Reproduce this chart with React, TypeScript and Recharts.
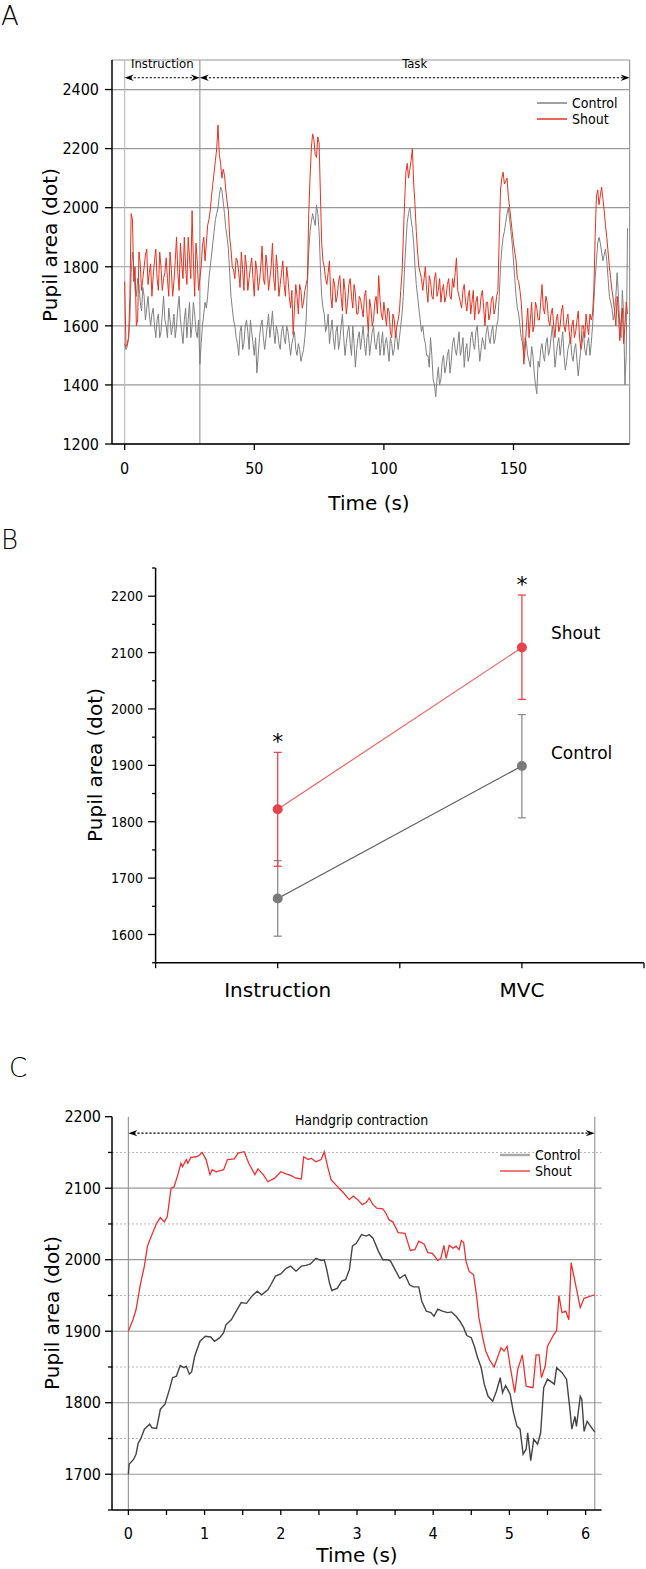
import { LineChart, Line, XAxis, YAxis, CartesianGrid, ReferenceLine, ErrorBar, LabelList } from 'recharts'

const NARROW = "'DejaVu Sans Condensed', 'DejaVu Sans', sans-serif"
const SANS = "'DejaVu Sans', sans-serif"
const RED = '#e5321f'
const GRAY = '#808080'
const AXIS = { stroke: '#000', strokeWidth: 1.5 }

// ---- Panel A: whole trial, samples on the full second (0..194 s)
const shoutA = [
    1750, 1540, 1700, 1960, 1800, 1620, 1810, 1760, 1840, 1740,
    1810, 1770, 1860, 1720, 1800, 1760, 1830, 1700, 1790, 1750,
    1900, 1720, 1810, 1900, 1740, 1830, 1990, 1700, 1820, 1760,
    1870, 1820, 1940, 1990, 2080, 2160, 2280, 2150, 2130, 2060,
    1990, 1860, 1790, 1830, 1780, 1850, 1720, 1800, 1760, 1830,
    1700, 1790, 1750, 1870, 1740, 1800, 1760, 1880, 1720, 1790,
    1740, 1820, 1700, 1760, 1660, 1570, 1740, 1640, 1720, 1680,
    1740, 1980, 2200, 2230, 2170, 2220, 1880, 1800, 1740, 1820,
    1660, 1740, 1700, 1770, 1650, 1720, 1680, 1760, 1660, 1710,
    1640, 1690, 1630, 1720, 1580, 1660, 1620, 1700, 1770, 1640,
    1680, 1600, 1650, 1560, 1620, 1600, 1650, 1780, 2020, 2150,
    2130, 2200, 2010, 1850, 1780, 1720, 1800, 1680, 1750, 1690,
    1780, 1720, 1680, 1740, 1700, 1760, 1690, 1730, 1830, 1700,
    1660, 1740, 1650, 1720, 1680, 1620, 1700, 1650, 1720, 1600,
    1680, 1640, 1700, 1660, 1720, 2060, 2120, 2090, 2040, 1960,
    1880, 1820, 1750, 1680, 1470, 1600, 1560, 1680, 1600, 1660,
    1620, 1740, 1640, 1680, 1600, 1660, 1560, 1640, 1600, 1670,
    1580, 1640, 1540, 1620, 1580, 1650, 1520, 1600, 1640, 1570,
    1620, 1720, 2040, 2010, 2070, 1990, 1900, 1800, 1720, 1650,
    1700, 1550, 1660, 1600, 1640,
]
// samples on the half second (0.5..193.5 s)
const shoutAHalf = [
    1530, 1560, 1980, 1750, 1600, 1850, 1720, 1800, 1860, 1780,
    1700, 1820, 1760, 1850, 1720, 1780, 1760, 1850, 1700, 1820,
    1780, 1880, 1760, 1800, 1900, 1760, 1820, 1880, 1720, 1800,
    1900, 1880, 1960, 2040, 2120, 2200, 2180, 2100, 2110, 2020,
    1900, 1800, 1760, 1820, 1730, 1790, 1840, 1720, 1800, 1760,
    1820, 1720, 1800, 1760, 1840, 1720, 1800, 1760, 1840, 1700,
    1780, 1740, 1800, 1700, 1720, 1660, 1700, 1740, 1660, 1720,
    1760, 2100, 2250, 2180, 2240, 2050, 1820, 1760, 1780, 1700,
    1760, 1680, 1750, 1700, 1760, 1640, 1740, 1700, 1740, 1640,
    1700, 1660, 1700, 1640, 1690, 1600, 1680, 1640, 1690, 1620,
    1640, 1660, 1580, 1640, 1560, 1620, 1720, 1900, 2120, 2100,
    2160, 2080, 1920, 1800, 1760, 1760, 1720, 1770, 1700, 1760,
    1700, 1760, 1720, 1680, 1740, 1700, 1760, 1780, 1720, 1680,
    1720, 1680, 1700, 1640, 1720, 1680, 1640, 1700, 1660, 1680,
    1620, 1690, 1640, 1700, 1900, 2100, 2080, 2100, 2000, 1920,
    1850, 1760, 1720, 1600, 1520, 1660, 1620, 1580, 1680, 1620,
    1680, 1660, 1700, 1620, 1640, 1600, 1620, 1580, 1650, 1600,
    1620, 1580, 1600, 1560, 1620, 1560, 1600, 1560, 1600, 1640,
    1640, 1900, 2060, 2040, 2030, 1940, 1850, 1760, 1690, 1600,
    1640, 1620, 1540, 1680,
]
const controlA = [
    1540, 1530, 1620, 1850, 1720, 1760, 1680, 1730, 1620, 1700,
    1600, 1660, 1560, 1640, 1580, 1700, 1600, 1660, 1570, 1640,
    1600, 1700, 1580, 1620, 1560, 1680, 1600, 1640, 1560, 1470,
    1600, 1680, 1700, 1800, 1880, 1960, 2000, 2070, 2020, 1930,
    1860, 1700, 1620, 1560, 1500, 1600, 1540, 1620, 1520, 1580,
    1500, 1440, 1560, 1620, 1520, 1600, 1560, 1650, 1540, 1580,
    1520, 1600, 1540, 1580, 1500, 1560, 1520, 1540, 1480, 1520,
    1620, 1850, 1950, 1960, 2010, 1920, 1700, 1640, 1600, 1540,
    1620, 1520, 1600, 1550, 1640, 1500, 1580, 1540, 1600, 1460,
    1560, 1520, 1600, 1500, 1580, 1540, 1600, 1520, 1580, 1540,
    1500, 1560, 1480, 1540, 1520, 1560, 1560, 1640, 1800, 1950,
    2000, 1930, 1800, 1700, 1620, 1600, 1540, 1500, 1560, 1420,
    1360, 1460, 1420, 1500, 1460, 1520, 1480, 1560, 1500, 1580,
    1520, 1460, 1540, 1500, 1580, 1520, 1600, 1480, 1560, 1520,
    1600, 1540, 1600, 1560, 1620, 1800, 1900, 1950, 2000, 1920,
    1820, 1700, 1640, 1560, 1500, 1540, 1480, 1530, 1440, 1370,
    1460, 1540, 1480, 1560, 1520, 1600, 1460, 1540, 1500, 1580,
    1450, 1520, 1560, 1480, 1540, 1430, 1520, 1580, 1500, 1560,
    1540, 1680, 1820, 1900, 1850, 1840, 1820, 1700, 1660, 1640,
    1780, 1600, 1720, 1400, 1930,
]
const controlAHalf = [
    1520, 1560, 1780, 1800, 1700, 1740, 1650, 1700, 1660, 1640,
    1640, 1600, 1620, 1560, 1640, 1620, 1560, 1620, 1600, 1560,
    1660, 1620, 1540, 1660, 1620, 1560, 1680, 1580, 1620, 1540,
    1640, 1660, 1760, 1840, 1920, 1980, 2040, 2060, 1980, 1900,
    1780, 1660, 1600, 1540, 1580, 1520, 1600, 1580, 1620, 1540,
    1560, 1500, 1600, 1560, 1560, 1640, 1600, 1580, 1600, 1540,
    1580, 1560, 1600, 1540, 1540, 1580, 1500, 1520, 1500, 1560,
    1740, 1920, 1980, 1940, 1980, 1800, 1660, 1580, 1640, 1580,
    1560, 1580, 1520, 1600, 1560, 1540, 1600, 1500, 1540, 1520,
    1580, 1560, 1540, 1560, 1500, 1580, 1540, 1560, 1500, 1580,
    1540, 1520, 1560, 1500, 1580, 1520, 1600, 1700, 1880, 1980,
    1960, 1880, 1740, 1660, 1580, 1560, 1500, 1460, 1500, 1400,
    1420, 1400, 1480, 1440, 1500, 1440, 1540, 1520, 1540, 1500,
    1560, 1520, 1480, 1560, 1540, 1580, 1540, 1520, 1540, 1580,
    1560, 1580, 1540, 1600, 1700, 1860, 1920, 1980, 1960, 1880,
    1760, 1660, 1600, 1540, 1560, 1500, 1460, 1500, 1400, 1480,
    1520, 1500, 1540, 1500, 1560, 1540, 1500, 1560, 1540, 1500,
    1480, 1540, 1500, 1520, 1480, 1480, 1540, 1520, 1540, 1500,
    1600, 1760, 1880, 1880, 1820, 1860, 1760, 1680, 1620, 1700,
    1700, 1560, 1640, 1500,
]
const ticksAY = [1200, 1400, 1600, 1800, 2000, 2200, 2400]
const ticksAX = [0, 50, 100, 150]
const instructionEnd = 29
const recordEnd = 194.8

// ---- Panel B: mean ± SD
const phases = ['Instruction', 'MVC']
const shoutMeanB = [1822, 2109]
const shoutLowB = [101, 92]
const shoutHighB = [101, 93]
const controlMeanB = [1664, 1899]
const controlLowB = [67, 92]
const controlHighB = [67, 91]
const ticksBY = [1550, 1600, 1650, 1700, 1750, 1800, 1850, 1900, 1950, 2000, 2050, 2100, 2150, 2200, 2250]

// ---- Panel C: handgrip contraction
const shoutTimeC = [
    0, 0.06, 0.1, 0.16, 0.21, 0.25, 0.29, 0.37, 0.42, 0.47, 0.51, 0.54, 0.56, 0.6, 0.65, 0.69, 0.71, 0.76, 0.78, 0.82,
    0.89, 0.93, 0.97, 1.02, 1.07, 1.1, 1.15, 1.25, 1.3, 1.39, 1.44, 1.52, 1.58, 1.66, 1.7, 1.77, 1.83, 1.92, 2.0, 2.07,
    2.13, 2.2, 2.27, 2.3, 2.36, 2.4, 2.46, 2.53, 2.57, 2.62, 2.66, 2.72, 2.81, 2.9, 2.95, 3.01, 3.07, 3.12, 3.16, 3.21,
    3.26, 3.34, 3.38, 3.42, 3.47, 3.54, 3.63, 3.7, 3.76, 3.81, 3.88, 3.93, 3.99, 4.06, 4.1, 4.14, 4.17, 4.21, 4.26, 4.3,
    4.34, 4.37, 4.4, 4.43, 4.47, 4.53, 4.57, 4.6, 4.65, 4.69, 4.74, 4.8, 4.85, 4.89, 4.93, 4.97, 5.01, 5.07, 5.11, 5.15,
    5.17, 5.22, 5.27, 5.31, 5.35, 5.39, 5.42, 5.47, 5.5, 5.58, 5.62, 5.65, 5.69, 5.74, 5.78, 5.81, 5.93, 5.98, 6.12,
]
const shoutValueC = [
    1900, 1916, 1930, 1967, 1991, 2019, 2030, 2051, 2059, 2053, 2060, 2084, 2100, 2102, 2119, 2135, 2130, 2140, 2135, 2143,
    2144, 2146, 2150, 2140, 2119, 2126, 2123, 2126, 2140, 2141, 2149, 2151, 2135, 2119, 2127, 2119, 2109, 2114, 2123, 2120,
    2118, 2114, 2113, 2144, 2140, 2142, 2137, 2140, 2151, 2128, 2112, 2105, 2095, 2084, 2089, 2084, 2077, 2080, 2086, 2077,
    2072, 2071, 2065, 2056, 2053, 2038, 2037, 2013, 2014, 2026, 2022, 2010, 2009, 1999, 2002, 2020, 2002, 2020, 2016, 2019,
    2014, 2027, 2024, 1998, 1984, 1979, 1949, 1919, 1891, 1872, 1860, 1850, 1865, 1877, 1872, 1879, 1851, 1814, 1847, 1860,
    1867, 1823, 1822, 1821, 1867, 1867, 1835, 1851, 1879, 1895, 1901, 1950, 1926, 1928, 1916, 1996, 1933, 1946, 1951,
]
const controlTimeC = [
    0, 0.01, 0.07, 0.1, 0.13, 0.16, 0.21, 0.25, 0.28, 0.31, 0.37, 0.42, 0.48, 0.54, 0.58, 0.63, 0.68, 0.73, 0.76, 0.8,
    0.83, 0.87, 0.94, 1.01, 1.08, 1.13, 1.2, 1.25, 1.28, 1.35, 1.41, 1.48, 1.55, 1.62, 1.69, 1.75, 1.83, 1.87, 1.93, 2.0,
    2.07, 2.13, 2.2, 2.27, 2.33, 2.39, 2.46, 2.53, 2.57, 2.6, 2.64, 2.67, 2.74, 2.8, 2.85, 2.9, 2.94, 2.99, 3.06, 3.12,
    3.16, 3.21, 3.28, 3.34, 3.4, 3.44, 3.51, 3.56, 3.63, 3.69, 3.74, 3.81, 3.85, 3.91, 3.97, 4.01, 4.06, 4.12, 4.19, 4.24,
    4.3, 4.35, 4.4, 4.44, 4.5, 4.54, 4.58, 4.63, 4.67, 4.72, 4.78, 4.83, 4.88, 4.91, 4.95, 5.01, 5.05, 5.1, 5.14, 5.18,
    5.22, 5.24, 5.28, 5.32, 5.37, 5.41, 5.45, 5.5, 5.59, 5.62, 5.69, 5.75, 5.79, 5.82, 5.86, 5.88, 5.93, 5.95, 5.98, 6.02,
    6.12,
]
const controlValueC = [
    1700, 1714, 1721, 1728, 1744, 1749, 1763, 1767, 1770, 1765, 1764, 1791, 1798, 1819, 1835, 1837, 1852, 1849, 1851, 1840,
    1843, 1865, 1886, 1893, 1892, 1886, 1891, 1898, 1909, 1916, 1927, 1940, 1939, 1949, 1956, 1951, 1958, 1965, 1977, 1980,
    1988, 1991, 1984, 1991, 1992, 1994, 2002, 1999, 2000, 1988, 1967, 1957, 1960, 1970, 1972, 1986, 2019, 2023, 2035, 2033,
    2035, 2030, 2012, 2000, 2000, 1998, 1984, 1974, 1979, 1965, 1962, 1962, 1942, 1928, 1926, 1921, 1931, 1928, 1926, 1927,
    1921, 1914, 1905, 1894, 1891, 1879, 1864, 1849, 1826, 1809, 1802, 1816, 1835, 1814, 1824, 1812, 1788, 1767, 1763, 1728,
    1735, 1758, 1719, 1749, 1742, 1758, 1821, 1833, 1826, 1849, 1842, 1833, 1795, 1763, 1781, 1767, 1809, 1805, 1760, 1774,
    1759,
]
const ticksCY = [1650, 1700, 1750, 1800, 1850, 1900, 1950, 2000, 2050, 2100, 2150, 2200]
const ticksCX = [0, 0.5, 1, 1.5, 2, 2.5, 3, 3.5, 4, 4.5, 5, 5.5, 6]
const solidGridC = [1700, 1800, 1900, 2000, 2100]
const dottedGridC = [1750, 1850, 1950, 2050, 2150]
const gripEnd = 6.12

// interleave full-second and half-second samples
const rowsA: { t: number; shout: number; control: number }[] = []
shoutA.forEach((v, i) => {
    rowsA.push({ t: i, shout: v, control: controlA[i] })
    if (i < shoutAHalf.length) rowsA.push({ t: i + 0.5, shout: shoutAHalf[i], control: controlAHalf[i] })
})
const rowsB = phases.map((p, i) => ({
    x: i * 2 + 1,
    phase: p,
    shout: shoutMeanB[i],
    shoutErr: [shoutLowB[i], shoutHighB[i]],
    shoutTop: shoutMeanB[i] + shoutHighB[i],
    control: controlMeanB[i],
    controlErr: [controlLowB[i], controlHighB[i]],
}))
const shoutRowsC = shoutTimeC.map((t, i) => ({ t, v: shoutValueC[i] }))
const controlRowsC = controlTimeC.map((t, i) => ({ t, v: controlValueC[i] }))

// axis ticks drawn by hand so minor/major lengths can differ
function leftTick(isMajor: (v: number) => boolean, majorLen: number, minorLen: number, gap: number, fontSize: number) {
    return (props: any) => {
        const { x, y, payload } = props
        const v = payload.value
        const major = isMajor(v)
        const len = major ? majorLen : minorLen
        return (
            <g>
                <line x1={x - len} y1={y} x2={x} y2={y} stroke="#000" strokeWidth={1.3} />
                {major && (
                    <text x={x - len - gap} y={y} dy="0.36em" textAnchor="end" fontSize={fontSize}
                        fontFamily={NARROW} style={{ fontStretch: 'condensed' }} fill="#000">{v}</text>
                )}
            </g>
        )
    }
}

function bottomTick(label: (v: number) => string, len: number, gap: number, fontSize: number, font: string) {
    return (props: any) => {
        const { x, y, payload } = props
        const text = label(payload.value)
        return (
            <g>
                <line x1={x} y1={y} x2={x} y2={y + len} stroke="#000" strokeWidth={1.3} />
                {text && (
                    <text x={x} y={y + len + gap} dy="0.72em" textAnchor="middle" fontSize={fontSize}
                        fontFamily={font} style={font === NARROW ? { fontStretch: 'condensed' } : undefined}
                        fill="#000">{text}</text>
                )}
            </g>
        )
    }
}

// dotted double-headed arrow with caption
function arrowShape(caption: string, fontSize: number, lift: number) {
    return (p: any) => {
        const { x1, y1, x2, y2 } = p
        const head = (x: number, y: number, d: number) =>
            `${x},${y} ${x - d * 9},${y - 3.2} ${x - d * 6},${y} ${x - d * 9},${y + 3.2}`
        return (
            <g>
                <line x1={x1 + 5} y1={y1} x2={x2 - 5} y2={y2} stroke="#000" strokeWidth={1.1} strokeDasharray="2.2 1.8" />
                <polygon points={head(x1, y1, -1)} fill="#000" />
                <polygon points={head(x2, y2, 1)} fill="#000" />
                <text x={(x1 + x2) / 2} y={y1 - lift} textAnchor="middle" fontSize={fontSize} fontFamily={NARROW}
                    style={{ fontStretch: 'condensed' }} fill="#000">{caption}</text>
            </g>
        )
    }
}

function YTitle({ cx, cy, text }: { cx: number; cy: number; text: string }) {
    return (
        <div style={{
            position: 'absolute', left: cx, top: cy, transform: 'translate(-50%, -50%) rotate(-90deg)',
            fontFamily: SANS, fontSize: 20, whiteSpace: 'nowrap', lineHeight: 1,
        }}>{text}</div>
    )
}

function XTitle({ cx, cy, text }: { cx: number; cy: number; text: string }) {
    return (
        <div style={{
            position: 'absolute', left: cx, top: cy, transform: 'translate(-50%, -50%)',
            fontFamily: SANS, fontSize: 20, whiteSpace: 'nowrap', lineHeight: 1,
        }}>{text}</div>
    )
}

function PanelLetter({ left, top, text }: { left: number; top: number; text: string }) {
    return (
        <div style={{ position: 'absolute', left, top, fontFamily: SANS, fontWeight: 200, fontSize: 26, lineHeight: 1 }}>{text}</div>
    )
}

function LegendBox({ left, top, items }: { left: number; top: number; items: { name: string; color: string; width: number }[] }) {
    return (
        <svg style={{ position: 'absolute', left, top }} width={90} height={36}>
            {items.map((it, i) => (
                <g key={it.name}>
                    <line x1={0} x2={30} y1={8 + i * 16} y2={8 + i * 16} stroke={it.color} strokeWidth={it.width} />
                    <text x={35} y={8 + i * 16} dy="0.36em" fontSize={14} fontFamily={NARROW}
                        style={{ fontStretch: 'condensed' }} fill="#000">{it.name}</text>
                </g>
            ))}
        </svg>
    )
}

function PanelA() {
    return (
        <div style={{ position: 'absolute', left: 0, top: 0 }}>
            <LineChart width={646} height={530} data={rowsA} margin={{ top: 60, right: 16.4, bottom: 56, left: 0 }}>
                <CartesianGrid vertical={false} stroke="#999" strokeWidth={1.2} />
                <XAxis type="number" dataKey="t" domain={[-4.9, recordEnd]} allowDataOverflow ticks={ticksAX} interval={0}
                    height={30} tickSize={0} tickMargin={0} tickLine={false} axisLine={AXIS}
                    tick={bottomTick((v) => String(v), 6, 12, 16, NARROW)} />
                <YAxis type="number" domain={[1200, 2500]} allowDataOverflow ticks={ticksAY} interval={0} width={112}
                    tickSize={0} tickMargin={0} tickLine={false} axisLine={AXIS}
                    tick={leftTick(() => true, 7, 7, 6, 16)} />
                <ReferenceLine x={0} stroke="#b0b0b0" strokeWidth={1} />
                <ReferenceLine x={instructionEnd} stroke="#999" strokeWidth={1.2} />
                <ReferenceLine x={recordEnd} stroke="#999" strokeWidth={1.2} />
                <ReferenceLine segment={[{ x: 0, y: 2440 }, { x: instructionEnd, y: 2440 }]}
                    shape={arrowShape('Instruction', 13, 9.5)} />
                <ReferenceLine segment={[{ x: instructionEnd, y: 2440 }, { x: recordEnd, y: 2440 }]}
                    shape={arrowShape('Task', 13, 9.5)} />
                <Line dataKey="control" name="Control" stroke={GRAY} strokeWidth={1} dot={false} isAnimationActive={false} />
                <Line dataKey="shout" name="Shout" stroke={RED} strokeWidth={1} dot={false} isAnimationActive={false} />
            </LineChart>
        </div>
    )
}

const starLabel = (p: any) => (
    <text x={p.x} y={p.y - 3} textAnchor="middle" fontSize={22} fontFamily={SANS} fill="#000">*</text>
)

const seriesLabel = (name: string, lift: number) => (p: any) =>
    p.index === 1 ? (
        <text x={p.x + 29} y={p.y - lift} dy="0.36em" fontSize={17} fontFamily={SANS} fill="#000">{name}</text>
    ) : null

function PanelB() {
    return (
        <div style={{ position: 'absolute', left: 0, top: 540 }}>
            <LineChart width={646} height={520} data={rowsB} margin={{ top: 28, right: 2, bottom: 57.3, left: 0 }}>
                <XAxis type="number" dataKey="x" domain={[0, 4]} allowDataOverflow ticks={[0, 1, 2, 3, 4]} interval={0}
                    height={40} tickSize={0} tickMargin={0} tickLine={false} axisLine={AXIS}
                    tick={bottomTick((v) => (v === 1 ? phases[0] : v === 3 ? phases[1] : ''), 5.5, 14, 20, SANS)} />
                <YAxis type="number" domain={[1550, 2250]} allowDataOverflow ticks={ticksBY} interval={0} width={155.6}
                    tickSize={0} tickMargin={0} tickLine={false} axisLine={AXIS}
                    tick={leftTick((v) => v % 100 === 0, 7.5, 3.5, 5, 14)} />
                <Line dataKey="control" stroke="#5c5c5c" strokeWidth={1.2} isAnimationActive={false}
                    dot={{ r: 5, fill: '#7b7b7b', stroke: '#7b7b7b', strokeWidth: 0 }}>
                    <ErrorBar dataKey="controlErr" width={4} stroke="#8c8c8c" strokeWidth={1.3} />
                    <LabelList content={seriesLabel('Control', 13)} />
                </Line>
                <Line dataKey="shout" stroke="#f06262" strokeWidth={1.2} isAnimationActive={false}
                    dot={{ r: 5, fill: '#e8434a', stroke: '#e8434a', strokeWidth: 0 }}>
                    <ErrorBar dataKey="shoutErr" width={4} stroke="#e84848" strokeWidth={1.3} />
                    <LabelList content={seriesLabel('Shout', 15)} />
                </Line>
                <Line dataKey="shoutTop" stroke="none" dot={false} activeDot={false} isAnimationActive={false}>
                    <LabelList content={starLabel} />
                </Line>
            </LineChart>
        </div>
    )
}

function PanelC() {
    return (
        <div style={{ position: 'absolute', left: 0, top: 1090 }}>
            <LineChart width={646} height={479} margin={{ top: 26.7, right: 44.4, bottom: 29, left: 0 }}>
                <XAxis type="number" dataKey="t" domain={[-0.215, 6.21]} allowDataOverflow ticks={ticksCX} interval={0}
                    height={30} tickSize={0} tickMargin={0} tickLine={false} axisLine={AXIS}
                    tick={bottomTick((v) => (Number.isInteger(v) ? String(v) : ''), 5, 12, 16, NARROW)} />
                <YAxis type="number" domain={[1650, 2200]} allowDataOverflow ticks={ticksCY} interval={0} width={112}
                    tickSize={0} tickMargin={0} tickLine={false} axisLine={AXIS}
                    tick={leftTick((v) => v % 100 === 0, 7, 4, 4, 16)} />
                {dottedGridC.map((v) => (
                    <ReferenceLine key={`d${v}`} y={v} stroke="#b5b5b5" strokeWidth={1} strokeDasharray="2 2" />
                ))}
                {solidGridC.map((v) => (
                    <ReferenceLine key={`s${v}`} y={v} stroke="#999" strokeWidth={1.2} />
                ))}
                <ReferenceLine x={0} stroke="#999" strokeWidth={1.2} />
                <ReferenceLine x={gripEnd} stroke="#999" strokeWidth={1.2} />
                <ReferenceLine segment={[{ x: 0, y: 2177 }, { x: gripEnd, y: 2177 }]}
                    shape={arrowShape('Handgrip contraction', 14, 8.5)} />
                <Line data={controlRowsC} dataKey="v" name="Control" stroke="#444" strokeWidth={1.4} dot={false} isAnimationActive={false} />
                <Line data={shoutRowsC} dataKey="v" name="Shout" stroke="#ee3030" strokeWidth={1.3} dot={false} isAnimationActive={false} />
            </LineChart>
        </div>
    )
}

export default function App() {
    return (
        <div style={{ position: 'absolute', left: 0, top: 0, width: 646, height: 1569, background: '#fff', overflow: 'hidden' }}>
            <PanelA />
            <PanelB />
            <PanelC />
            <PanelLetter left={1} top={3} text="A" />
            <PanelLetter left={1} top={527} text="B" />
            <PanelLetter left={9} top={1055} text="C" />
            <YTitle cx={50} cy={245} text="Pupil area (dot)" />
            <XTitle cx={369} cy={503} text="Time (s)" />
            <YTitle cx={95} cy={765} text="Pupil area (dot)" />
            <YTitle cx={52} cy={1313} text="Pupil area (dot)" />
            <XTitle cx={357} cy={1555} text="Time (s)" />
            <LegendBox left={537} top={95} items={[{ name: 'Control', color: GRAY, width: 1.5 }, { name: 'Shout', color: RED, width: 1.5 }]} />
            <LegendBox left={500} top={1147} items={[{ name: 'Control', color: '#aaa', width: 2.5 }, { name: 'Shout', color: '#ee3030', width: 1.3 }]} />
        </div>
    )
}
